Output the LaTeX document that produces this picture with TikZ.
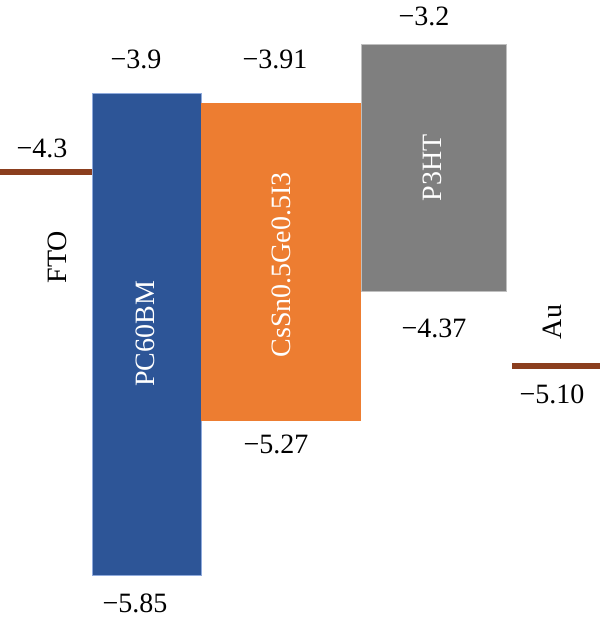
\documentclass[tikz,border=0pt]{standalone}
\usepackage{fontspec}
\setmainfont{Liberation Serif}
\definecolor{pcblue}{HTML}{2D5597}
\definecolor{pcblueedge}{HTML}{8FAADC}
\definecolor{csorange}{HTML}{ED7D31}
\definecolor{p3gray}{HTML}{7F7F7F}
\definecolor{p3grayedge}{HTML}{BFBFBF}
\definecolor{metal}{HTML}{8B3E1E}
\begin{document}
\begin{tikzpicture}[x=1pt,y=-1pt,
  val/.style={font=\fontsize{28}{33}\selectfont, text=black, inner sep=0pt},
  lbl/.style={font=\fontsize{28}{33}\selectfont, inner sep=0pt, rotate=90},
  metalline/.style={draw=metal, line width=6pt}]
\useasboundingbox (0,0) rectangle (600,622);
% bars
\fill[pcblue] (92,93) rectangle (201,575);
\draw[pcblueedge, line width=0.8pt] (92,93) rectangle (201,575);
\fill[csorange] (201,103) rectangle (361,421);
\fill[p3gray] (361,44) rectangle (506,291);
\draw[p3grayedge, line width=0.8pt] (361,44) rectangle (506,291);
% electrodes
\coordinate (ftoL) at (0,172);
\coordinate (ftoR) at (92,172);
\coordinate (auL) at (512,366);
\coordinate (auR) at (600,366);
\draw[metalline] (ftoL) -- (ftoR);
\draw[metalline] (auL) -- (auR);
% labels in bars
\node[lbl, text=white] (pcl) at (145,334) {PC60BM};
\node[lbl, text=white] (csl) at (281,265) {CsSn0.5Ge0.5I3};
\node[lbl, text=white] (p3l) at (432,168) {P3HT};
\node[lbl, text=black] (fto) at (57,257) {FTO};
\node[lbl, text=black] (au) at (552,322) {Au};
% values
\node[val] (v1) at (136,59) {−3.9};
\node[val] (v2) at (275,59) {−3.91};
\node[val] (v3) at (424,16) {−3.2};
\node[val] (v4) at (42,148) {−4.3};
\node[val] (v5) at (135,603) {−5.85};
\node[val] (v6) at (276,444) {−5.27};
\node[val] (v7) at (434,328) {−4.37};
\node[val] (v8) at (552,394) {−5.10};
\end{tikzpicture}
\end{document}
